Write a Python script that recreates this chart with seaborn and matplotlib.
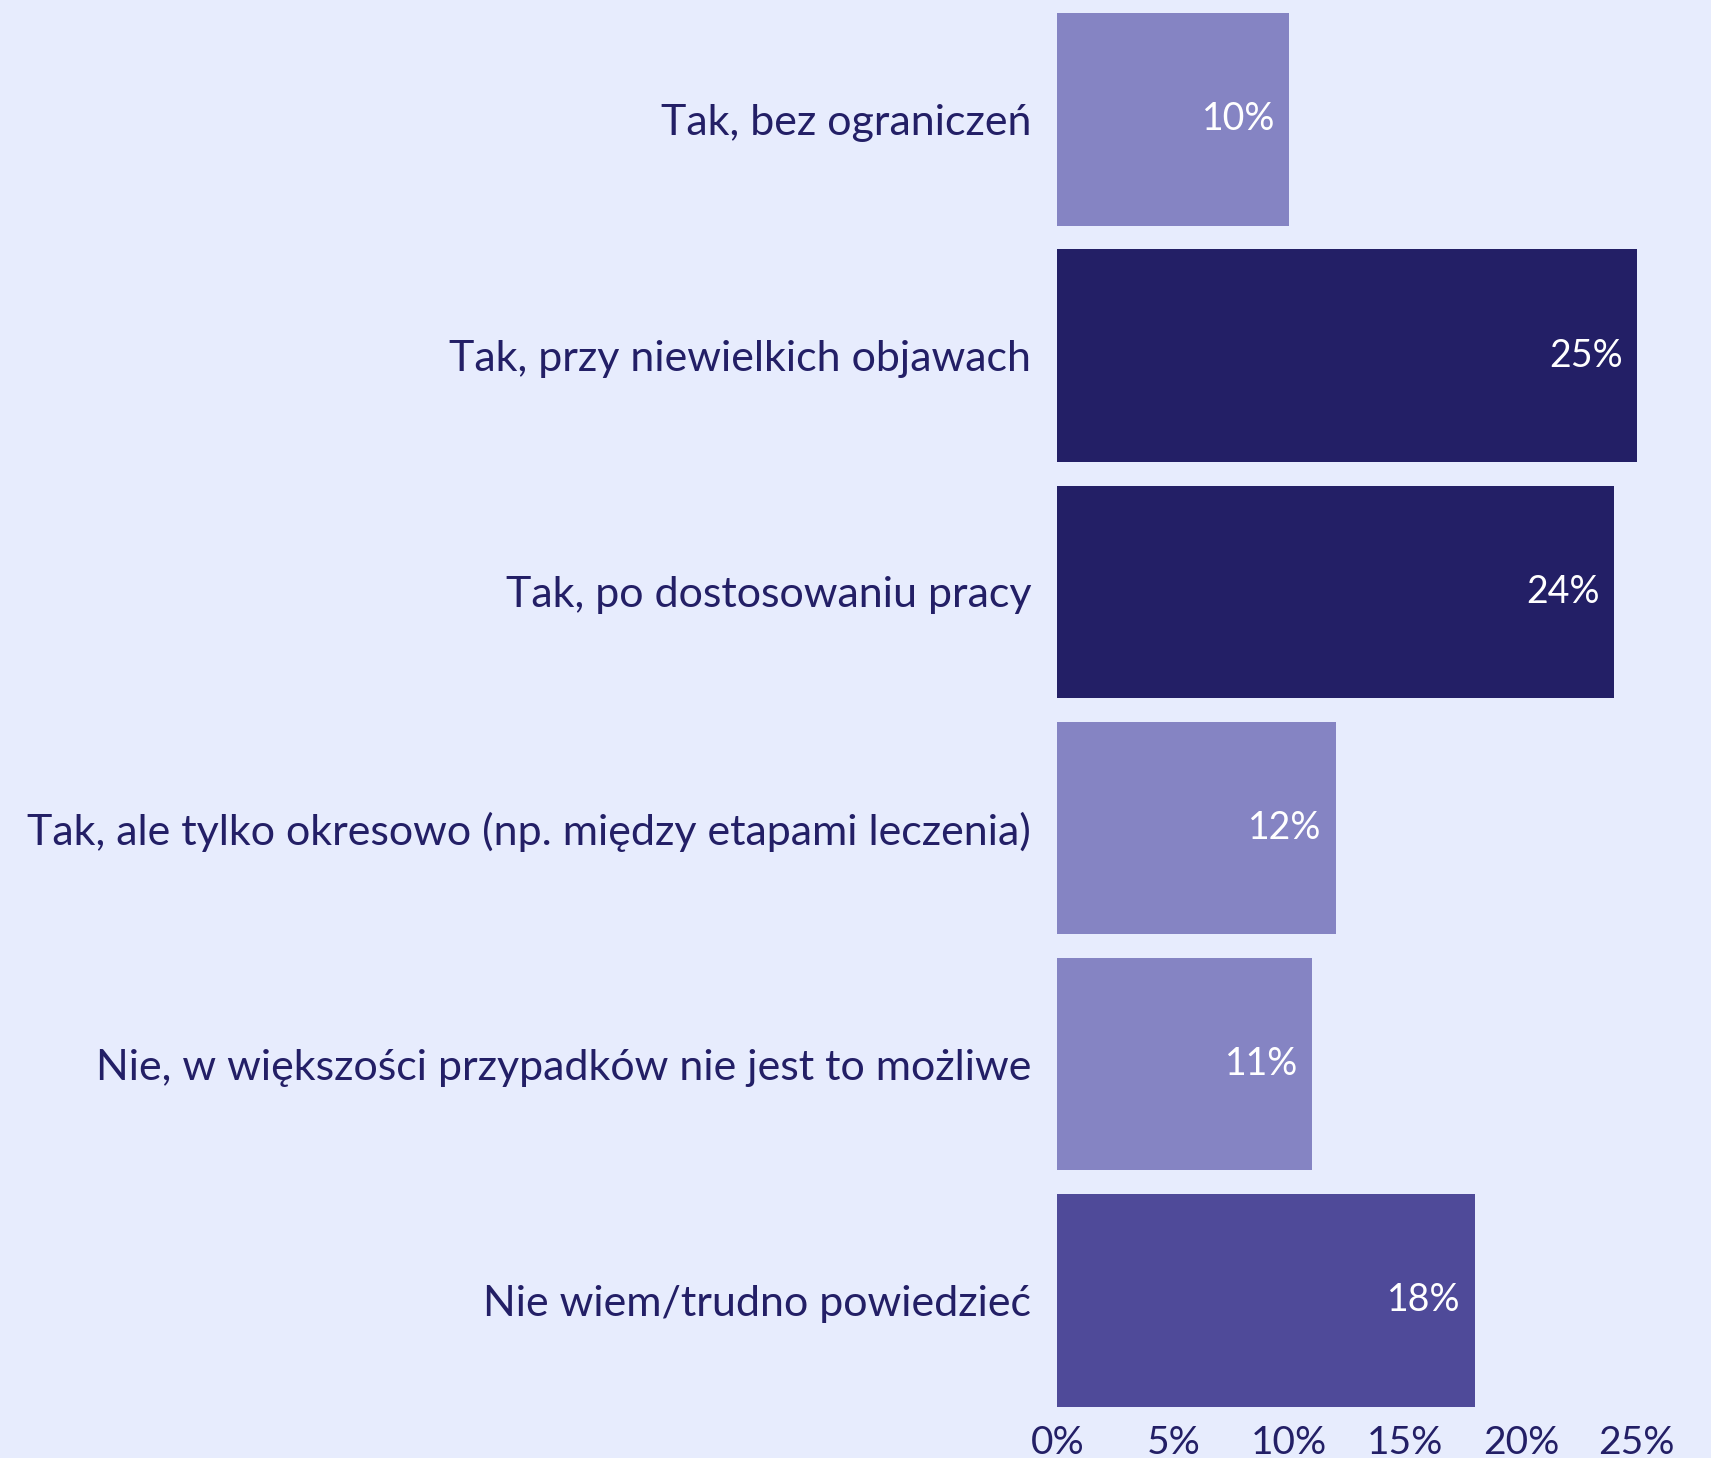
import matplotlib
matplotlib.use("Agg")
import matplotlib.pyplot as plt
import seaborn as sns
import pandas as pd

# data
categories = [
    "Tak, bez ograniczeń",
    "Tak, przy niewielkich objawach",
    "Tak, po dostosowaniu pracy",
    "Tak, ale tylko okresowo (np. między etapami leczenia)",
    "Nie, w większości przypadków nie jest to możliwe",
    "Nie wiem/trudno powiedzieć",
]
values = [10, 25, 24, 12, 11, 18]
tick_values = [0, 5, 10, 15, 20, 25]
tick_labels = ["0%", "5%", "10%", "15%", "20%", "25%"]

bg = "#E7ECFD"
text_color = "#231F66"
palette = ["#8584C3", "#231F66", "#231F66", "#8584C3", "#8584C3", "#4F4A99"]

df = pd.DataFrame({"category": categories, "value": values})

sns.set_theme(style="white")
plt.rcParams["font.family"] = ["Lato", "DejaVu Sans"]

fig = plt.figure(figsize=(17.11, 14.58), dpi=100, facecolor=bg)
ax = fig.add_axes([0.618, 0.0271, 0.382, 0.972])
ax.set_facecolor(bg)

sns.barplot(data=df, y="category", x="value", hue="category", palette=palette,
            legend=False, width=0.9, saturation=1, linewidth=0, ax=ax, orient="h")

ax.set_xlim(0, 28.2)
ax.set_ylim(5.5, -0.5)
ax.set_xticks(tick_values)
ax.set_xticklabels(tick_labels)
ax.set_xlabel("")
ax.set_ylabel("")
ax.tick_params(axis="both", length=0, colors=text_color)
ax.tick_params(axis="y", labelsize=31, pad=19)
ax.tick_params(axis="x", labelsize=28, pad=5)
for s in ax.spines.values():
    s.set_visible(False)

# value labels inside the bar ends
for container in ax.containers:
    texts = ax.bar_label(container, labels=[f"{v:.0f}%" for v in container.datavalues],
                         padding=-10, color="white", fontsize=27)
    for t in texts:
        t.set_ha("right")

fig.savefig("out.png", dpi=100, facecolor=bg)
